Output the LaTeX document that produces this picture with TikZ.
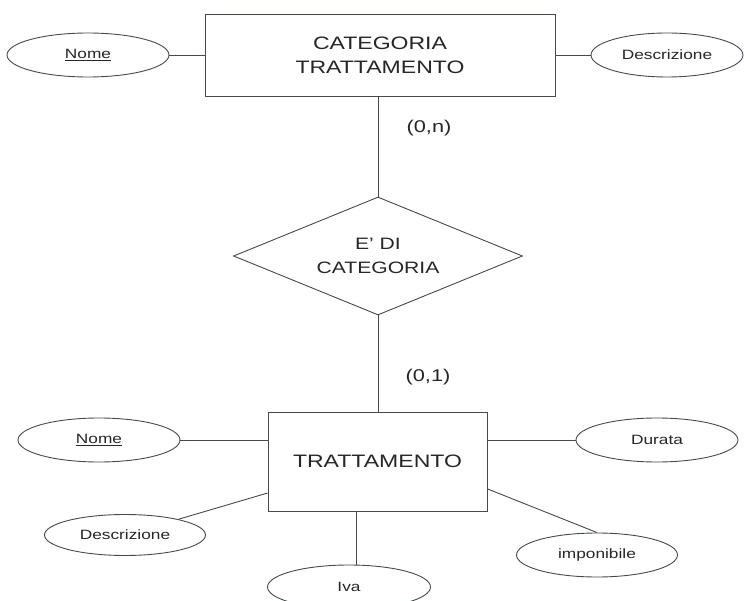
\documentclass[tikz,border=0pt]{standalone}
\usepackage{fontspec}
\setmainfont{Liberation Sans}[FakeStretch=1.28]
\usetikzlibrary{shapes.geometric,calc}
\definecolor{edgegray}{HTML}{454A50}
\definecolor{inkgray}{HTML}{262626}
\begin{document}
\begin{tikzpicture}[x=1pt,y=-1pt,
  entity/.style={draw=edgegray,line width=0.9pt,fill=white,rectangle,
    align=center,text=inkgray,font=\fontsize{18}{24}\selectfont,inner sep=0pt},
  relation/.style={draw=edgegray,line width=0.9pt,fill=white,diamond,aspect=2.45,
    align=center,text=inkgray,font=\fontsize{16.5}{24}\selectfont,inner sep=0pt},
  attrib/.style={draw=edgegray,line width=0.9pt,fill=white,ellipse,
    text=inkgray,font=\fontsize{13.5}{16}\selectfont,inner sep=0pt},
  link/.style={draw=edgegray,line width=0.9pt},
  card/.style={text=inkgray,font=\fontsize{17}{20}\selectfont}]
  % page area
  \fill[white] (0,0) rectangle (744,601);
  \useasboundingbox (0,0) rectangle (744,601);

  % entities
  \node[entity,minimum width=350,minimum height=82] (cat) at (380,55)
    {CATEGORIA\\TRATTAMENTO};
  \node[entity,minimum width=219,minimum height=99] (tratt) at (377.5,461.5)
    {TRATTAMENTO};

  % relationship
  \node[relation,minimum width=289,minimum height=118] (rel) at (378,256)
    {E' DI\\CATEGORIA};

  % attributes of CATEGORIA TRATTAMENTO
  \node[attrib,minimum width=162,minimum height=44] (nomeA) at (88,55) {\underline{Nome}};
  \node[attrib,minimum width=152,minimum height=44] (descA) at (667,55) {Descrizione};

  % attributes of TRATTAMENTO
  \node[attrib,minimum width=162,minimum height=44] (nomeB) at (99,440) {\underline{Nome}};
  \node[attrib,minimum width=162,minimum height=44] (durata) at (657,440) {Durata};
  \node[attrib,minimum width=161,minimum height=41] (descB) at (125,535) {Descrizione};
  \node[attrib,minimum width=163,minimum height=44] (iva) at (349,587) {Iva};
  \node[attrib,minimum width=161,minimum height=44] (impon) at (597,555) {imponibile};

  % connectors
  \draw[link] (nomeA.east) -- (nomeA.east -| cat.west);
  \draw[link] (descA.west -| cat.east) -- (descA.west);
  \draw[link] (rel.north |- cat.south) -- (rel.north);
  \draw[link] (rel.south) -- (rel.south |- tratt.north);
  \draw[link] (nomeB.east) -- (nomeB.east -| tratt.west);
  \draw[link] (durata.west -| tratt.east) -- (durata.west);
  \draw[link] (tratt.196.5) -- (descB);
  \coordinate (ivafoot) at ($(tratt.south)+(-21.5,0)$);
  \draw[link] (ivafoot) -- (ivafoot |- iva.north);
  \draw[link] (tratt.-14.6) -- (impon.north);

  % cardinalities
  \node[card] (cardN) at (429,128) {(0,n)};
  \node[card] (card1) at (428,377) {(0,1)};
\end{tikzpicture}
\end{document}
